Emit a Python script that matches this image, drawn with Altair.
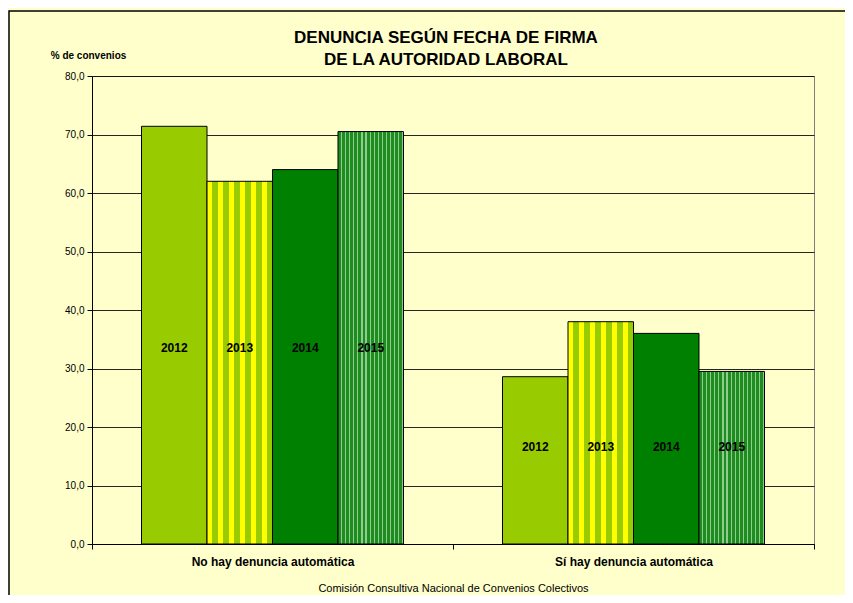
import altair as alt
import pandas as pd

categories = ["No hay denuncia automática", "Sí hay denuncia automática"]
years = ["2012", "2013", "2014", "2015"]
values_2012 = [71.4, 28.6]
values_2013 = [62.0, 38.0]
values_2014 = [64.0, 36.0]
values_2015 = [70.5, 29.5]
y_ticks = [0, 10, 20, 30, 40, 50, 60, 70, 80]
title_lines = ["DENUNCIA SEGÚN FECHA DE FIRMA", "DE LA AUTORIDAD LABORAL"]

rows = []
for yr, vals in zip(years, [values_2012, values_2013, values_2014, values_2015]):
    for c, v in zip(categories, vals):
        rows.append({"categoria": c, "anio": yr, "valor": v})
df = pd.DataFrame(rows)

FONT = "Liberation Sans"


def stripes(c1, c2, n, frac):
    stops = []
    for i in range(n):
        a = i / n
        b = (i + frac) / n
        e = (i + 1) / n
        stops += [
            alt.GradientStop(color=c1, offset=a),
            alt.GradientStop(color=c1, offset=b),
            alt.GradientStop(color=c2, offset=b),
            alt.GradientStop(color=c2, offset=e),
        ]
    return alt.Gradient(gradient="linear", stops=stops, x1=0, x2=1, y1=0, y2=0)


fills = {
    "2012": "#99CC00",
    "2013": stripes("#FFFF00", "#99CC00", 6, 0.5),
    "2014": "#008000",
    "2015": stripes("#1E8C1E", "#8FCC8F", 16, 0.7),
}

x_enc = alt.X(
    "categoria:N",
    sort=categories,
    scale=alt.Scale(paddingInner=0, paddingOuter=0),
    axis=alt.Axis(
        title="Comisión Consultiva Nacional de Convenios Colectivos",
        titleFontWeight="normal",
        titleFontSize=11,
        titleFont=FONT,
        titleColor="black",
        titlePadding=15,
        labelAngle=0,
        labelFontWeight="bold",
        labelFontSize=12,
        labelFont=FONT,
        labelColor="black",
        labelPadding=7,
        tickBand="extent",
        tickSize=5,
        tickColor="black",
        domainColor="black",
        grid=False,
    ),
)
xoff_enc = alt.XOffset(
    "anio:N",
    scale=alt.Scale(domain=years, paddingInner=0, paddingOuter=0.756),
)
y_enc = alt.Y(
    "valor:Q",
    scale=alt.Scale(domain=[0, 80]),
    axis=alt.Axis(
        values=y_ticks,
        labelExpr="replace(format(datum.value, '.1f'), '.', ',')",
        labelFontSize=10,
        labelFont=FONT,
        labelColor="black",
        labelPadding=3,
        tickSize=5,
        tickColor="black",
        domainColor="black",
        gridColor="black",
        gridOpacity=0.85,
        title="% de convenios",
        titleAngle=0,
        titleFontWeight="bold",
        titleFontSize=10,
        titleFont=FONT,
        titleColor="black",
        titleX=-4,
        titleY=-21,
        titleAlign="center",
        titleBaseline="middle",
    ),
)

border = alt.Chart(alt.Data(values=[{"a": 1}])).mark_rect(
    fillOpacity=0, stroke="black", strokeWidth=1.5
).encode(
    x=alt.value(-83), y=alt.value(-65), x2=alt.value(800), y2=alt.value(600)
)

title_marks = []
for i, line in enumerate(title_lines):
    title_marks.append(
        alt.Chart(alt.Data(values=[{"a": 1}]))
        .mark_text(
            text=line, font=FONT, fontSize=17, fontWeight="bold", color="black",
            align="center", baseline="middle",
        )
        .encode(x=alt.value(354), y=alt.value(-38 + 22 * i))
    )

bar_layers = []
for yr in years:
    bar_layers.append(
        alt.Chart(df)
        .transform_filter(alt.datum.anio == yr)
        .mark_bar(fill=fills[yr], stroke="black", strokeWidth=1)
        .encode(x=x_enc, xOffset=xoff_enc, y=y_enc)
    )

labels = (
    alt.Chart(df)
    .transform_joinaggregate(media="mean(valor)", groupby=["categoria"])
    .transform_calculate(label_y="datum.media / 2")
    .mark_text(font=FONT, fontWeight="bold", fontSize=12, color="black", baseline="middle")
    .encode(
        x=x_enc,
        xOffset=xoff_enc,
        y=alt.Y("label_y:Q"),
        text="anio:N",
    )
)

chart = (
    alt.layer(border, *title_marks, *bar_layers, labels)
    .properties(
        width=722,
        height=468,
        padding={"left": 84, "top": 68, "right": 31, "bottom": 51},
        autosize=alt.AutoSizeParams(type="none"),
        background="#FFFFCC",
    )
    .configure_view(stroke="#808080", fill="#FFFFCC")
)

chart.save("out.html", embed_options={"renderer": "svg", "actions": False})
